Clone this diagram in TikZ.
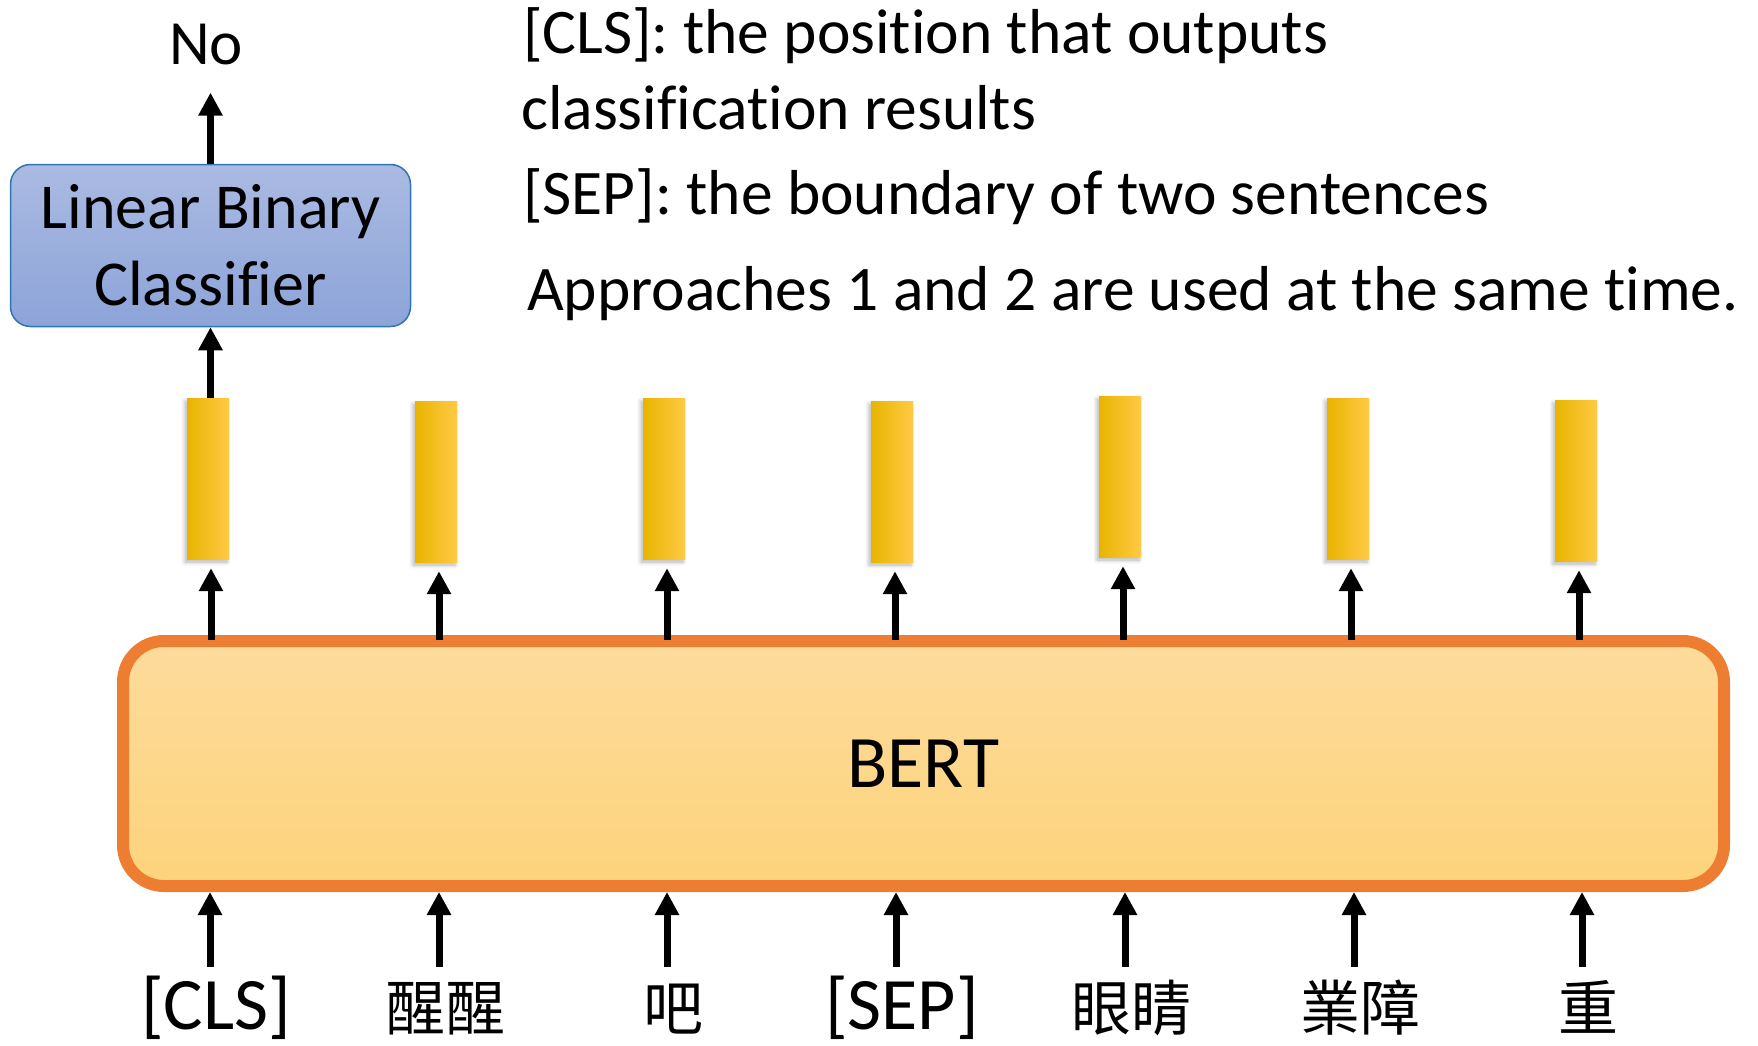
\documentclass[tikz,border=0pt]{standalone}
\usepackage{fontspec}
\setmainfont{Carlito}[Ligatures=CommonOff]
\newfontfamily\cjk{Noto Sans CJK TC}
\usetikzlibrary{arrows.meta,shadows.blur}

\definecolor{bertedge}{HTML}{ED7D31}
\definecolor{berttop}{HTML}{FDDB9B}
\definecolor{bertbot}{HTML}{FDD37B}
\definecolor{clsedge}{HTML}{2E75B6}
\definecolor{clstop}{HTML}{AABAE2}
\definecolor{clsbot}{HTML}{8DA4D9}
\definecolor{barL}{HTML}{E8B400}
\definecolor{barM}{HTML}{FFC000}
\definecolor{barR}{HTML}{FFCA45}

\begin{document}
\begin{tikzpicture}[x=1pt,y=-1pt,
  uparrow/.style={-{Triangle[width=23pt,length=23pt]}, line width=7pt},
  vecbar/.style={minimum width=42pt, minimum height=161pt, inner sep=0pt,
    left color=barL, middle color=barM, right color=barR,
    blur shadow={shadow xshift=-2pt, shadow yshift=-3pt, shadow opacity=30,
      shadow blur steps=6, shadow blur radius=4pt}},
  token/.style={anchor=base, inner sep=0pt, font=\fontsize{74}{74}\selectfont},
  ctoken/.style={anchor=base, inner sep=0pt, font=\cjk\fontsize{60}{60}\selectfont},
  note/.style={anchor=base west, inner sep=0pt, font=\fontsize{63.5}{63.5}\selectfont}
]
\useasboundingbox (0,0) rectangle (1758,1046);

% explanatory notes
\node[note] (n1) at (523,54) {[CLS]: the position that outputs};
\node[note] (n2) at (521,129) {classification results};
\node[note] (n3) at (523,214) {[SEP]: the boundary of two sentences};
\node[note] (n4) at (527,310) {Approaches 1 and 2 are used at the same time.};

% BERT encoder
\node[draw=bertedge, line width=12pt, rounded corners=41pt,
      top color=berttop, bottom color=bertbot,
      minimum width=1601pt, minimum height=245pt, inner sep=0pt,
      font=\fontsize{74}{74}\selectfont] (bert) at (923.5,763.5) {BERT};

% output vectors
\foreach \i/\bx/\by in {1/208/398, 2/436/401, 3/664/398, 4/892/401,
                        5/1120/396, 6/1348/398, 7/1576/400} {
  \node[vecbar] (b\i) at (\bx,\by+80.5) {};
  \coordinate (up\i) at (\bx+3,640);
  \draw[uparrow, shorten >=9pt] (up\i) -- (up\i |- b\i.south);
}

% classifier head
\node[draw=clsedge, line width=1.5pt, rounded corners=20pt,
      top color=clstop, bottom color=clsbot,
      minimum width=400pt, minimum height=162pt, inner sep=0pt, align=center,
      font=\fontsize{64}{77}\selectfont] (cls) at (210.5,245.5)
      {Linear Binary\\Classifier};
\node[anchor=base, inner sep=0pt, font=\fontsize{63}{63}\selectfont] (no) at (206,65) {No};
\draw[uparrow] (cls.south |- b1.north) -- (cls.south);
\draw[uparrow, shorten >=27pt] (cls.north) -- (cls.north |- no.south);

% input tokens
\node[token]  (t1) at (216,1029) {[CLS]};
\node[ctoken] (t2) at (445,1030) {醒醒};
\node[ctoken] (t3) at (673,1030) {吧};
\node[token]  (t4) at (902,1029) {[SEP]};
\node[ctoken] (t5) at (1131,1030) {眼睛};
\node[ctoken] (t6) at (1360,1030) {業障};
\node[ctoken] (t7) at (1588,1030) {重};
\foreach \i/\tx in {1/210, 2/439, 3/667, 4/896, 5/1125, 6/1354, 7/1582} {
  \coordinate (tail\i) at (\tx,967);
  \draw[uparrow] (tail\i) -- (tail\i |- bert.south);
}
\end{tikzpicture}
\end{document}
